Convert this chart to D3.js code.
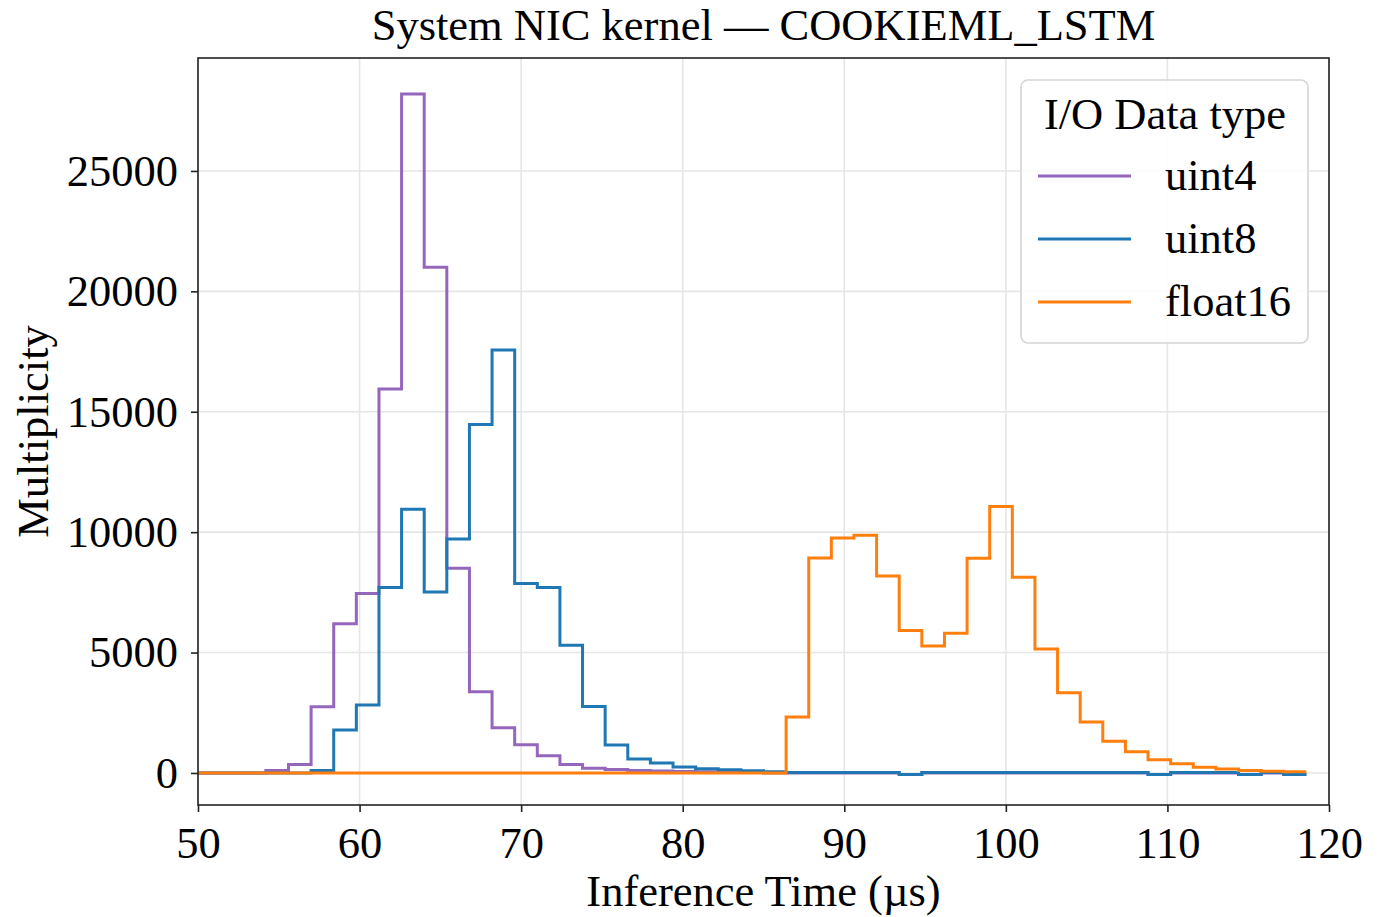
<!DOCTYPE html>
<html>
<head>
<meta charset="utf-8">
<script src="https://cdn.jsdelivr.net/npm/d3@7"></script>
<style>
  body { margin: 0; background: #fff; }
  text { font-family: "Liberation Serif", "DejaVu Serif", serif; fill: #000; }
</style>
</head>
<body>
<div id="chart"></div>
<script>
// bin edges (µs)
var binEdges = [50, 51.4, 52.8, 54.2, 55.6, 57, 58.4, 59.8, 61.2, 62.6,
  64, 65.4, 66.8, 68.2, 69.6, 71, 72.4, 73.8, 75.2, 76.6,
  78, 79.4, 80.8, 82.2, 83.6, 85, 86.4, 87.8, 89.2, 90.6,
  92, 93.4, 94.8, 96.2, 97.6, 99, 100.4, 101.8, 103.2, 104.6,
  106, 107.4, 108.8, 110.2, 111.6, 113, 114.4, 115.8, 117.2, 118.6];

var uint4 = [0, 0, 0, 100, 350, 2750, 6200, 7450, 15950, 28200,
  21000, 8500, 3370, 1880, 1170, 720, 350, 200, 140, 100,
  80, 60, 50, 50, 40, 0, 0, 0, 0, 0,
  0, -60, 0, 0, 0, 0, 0, 0, 0, 0,
  0, 0, -60, 0, 0, 0, -60, 0, -60];

var uint8 = [0, 0, 0, 0, 0, 100, 1780, 2820, 7700, 10950,
  7520, 9720, 14470, 17560, 7870, 7700, 5300, 2760, 1160, 580,
  410, 250, 180, 130, 90, 50, 20, 20, 20, 20,
  20, -60, 20, 20, 20, 20, 20, 20, 20, 20,
  20, 20, -60, 20, 20, 20, -60, 20, -60];

var float16 = [0, 0, 0, 0, 0, 0, 0, 0, 0, 0,
  0, 0, 0, 0, 0, 0, 0, 0, 0, 0,
  0, 0, 0, 0, 0, 0, 2320, 8930, 9760, 9870,
  8180, 5920, 5270, 5800, 8920, 11070, 8130, 5150, 3330, 2120,
  1320, 880, 550, 380, 235, 165, 100, 70, 50];

var seriesNames = ["uint4", "uint8", "float16"];
var seriesColors = ["#9467bd", "#1f77b4", "#ff7f0e"];
var seriesData = [uint4, uint8, float16];

var xTicks = [50, 60, 70, 80, 90, 100, 110, 120];
var yTicks = [0, 5000, 10000, 15000, 20000, 25000];

var fontSize = "44.5px";

// set the dimensions and margins of the graph
var W = 1384, H = 917;
var margin = {top: 58, right: 55, bottom: 112, left: 198},
    width = W - margin.left - margin.right,
    height = H - margin.top - margin.bottom;

var svg = d3.select("#chart")
  .append("svg")
    .attr("width", W)
    .attr("height", H);

var g = svg.append("g")
    .attr("transform", "translate(" + margin.left + "," + margin.top + ")");

var x = d3.scaleLinear().domain([50, 120]).range([0, width]);
var y = d3.scaleLinear().domain([-1330, 29690]).range([height, 0]);

// grid
g.append("g").selectAll("line")
  .data(xTicks).enter().append("line")
    .attr("x1", d => x(d)).attr("x2", d => x(d))
    .attr("y1", 0).attr("y2", height)
    .attr("stroke", "#e6e6e6").attr("stroke-width", 1.6);

g.append("g").selectAll("line")
  .data(yTicks).enter().append("line")
    .attr("x1", 0).attr("x2", width)
    .attr("y1", d => y(d)).attr("y2", d => y(d))
    .attr("stroke", "#e6e6e6").attr("stroke-width", 1.6);

// step lines
var line = d3.line()
  .x(d => x(d[0]))
  .y(d => y(d[1]))
  .curve(d3.curveStepAfter);

seriesData.forEach(function(vals, i) {
  var pts = vals.map((v, k) => [binEdges[k], v]);
  pts.push([binEdges[vals.length], vals[vals.length - 1]]);
  g.append("path")
    .datum(pts)
    .attr("fill", "none")
    .attr("stroke", seriesColors[i])
    .attr("stroke-width", 3)
    .attr("stroke-linejoin", "miter")
    .attr("d", line);
});

// axes
var xAxis = g.append("g")
  .attr("transform", "translate(0," + height + ")")
  .call(d3.axisBottom(x).tickValues(xTicks).tickSize(7).tickPadding(14).tickFormat(d3.format("d")));
var yAxis = g.append("g")
  .call(d3.axisLeft(y).tickValues(yTicks).tickSize(7).tickPadding(13).tickFormat(d3.format("d")));

[xAxis, yAxis].forEach(function(a) {
  a.select(".domain").remove();
  a.selectAll("line").attr("stroke", "#222").attr("stroke-width", 1.6);
  a.selectAll("text").style("font-size", fontSize).attr("fill", "#000")
    .style("font-family", "'Liberation Serif', serif");
});

// frame
g.append("rect")
  .attr("x", 0).attr("y", 0)
  .attr("width", width).attr("height", height)
  .attr("fill", "none").attr("stroke", "#222").attr("stroke-width", 1.6);

// title and labels
svg.append("text")
  .attr("x", margin.left + width / 2).attr("y", 40)
  .attr("text-anchor", "middle").style("font-size", fontSize)
  .text("System NIC kernel \u2014 COOKIEML_LSTM");

svg.append("text")
  .attr("x", margin.left + width / 2).attr("y", 906)
  .attr("text-anchor", "middle").style("font-size", fontSize)
  .text("Inference Time (\u00b5s)");

svg.append("text")
  .attr("transform", "translate(48," + (margin.top + height / 2) + ") rotate(-90)")
  .attr("text-anchor", "middle").style("font-size", fontSize)
  .text("Multiplicity");

// legend
var lg = svg.append("g").attr("transform", "translate(1021,80)");
lg.append("rect")
  .attr("width", 287).attr("height", 263)
  .attr("rx", 7).attr("ry", 7)
  .attr("fill", "#fff").attr("fill-opacity", 0.85)
  .attr("stroke", "#d5d5d5").attr("stroke-width", 1.6);
lg.append("text")
  .attr("x", 144).attr("y", 49)
  .attr("text-anchor", "middle").style("font-size", fontSize)
  .text("I/O Data type");
seriesNames.forEach(function(name, i) {
  var yy = 96 + i * 63;
  lg.append("line")
    .attr("x1", 17).attr("x2", 110)
    .attr("y1", yy).attr("y2", yy)
    .attr("stroke", seriesColors[i]).attr("stroke-width", 3);
  lg.append("text")
    .attr("x", 144).attr("y", yy + 14)
    .style("font-size", fontSize)
    .text(name);
});
</script>
</body>
</html>
